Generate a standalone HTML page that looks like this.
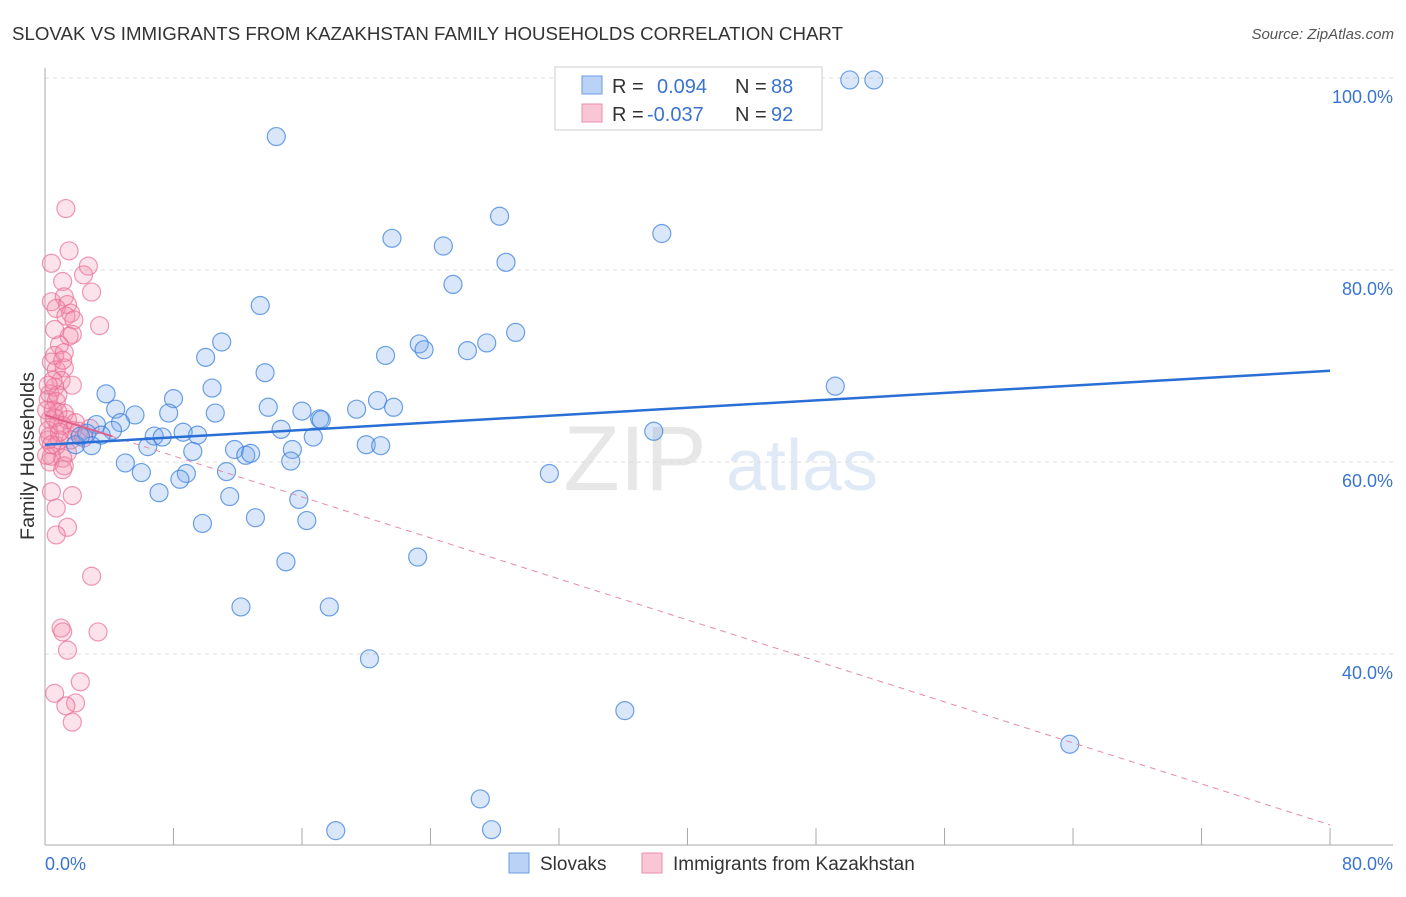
<!DOCTYPE html>
<html><head><meta charset="utf-8"><style>
body{margin:0;background:#fff;font-family:"Liberation Sans",sans-serif}
svg text{font-family:"Liberation Sans",sans-serif}
</style></head><body>
<svg id="chart" width="1406" height="892" xmlns="http://www.w3.org/2000/svg">
<text x="12" y="40" font-size="18" textLength="831" lengthAdjust="spacingAndGlyphs" fill="#333">SLOVAK VS IMMIGRANTS FROM KAZAKHSTAN FAMILY HOUSEHOLDS CORRELATION CHART</text>
<text x="1394" y="39" font-size="15" fill="#555" font-style="italic" text-anchor="end">Source: ZipAtlas.com</text>
<text transform="translate(34,456) rotate(-90)" font-size="19" textLength="168" lengthAdjust="spacingAndGlyphs" fill="#333" text-anchor="middle">Family Households</text>
<g opacity="0.35"><text x="635" y="490" font-size="92" fill="#bbb" font-family="Liberation Serif" text-anchor="middle">ZIP</text><text x="802" y="490" font-size="72" fill="#a8c4e8" text-anchor="middle">atlas</text></g>
<g id="grid"></g><g id="axes"></g><g id="pts"></g><g id="trend"></g>
<g>
<rect x="555" y="67" width="267" height="63" fill="#fff" stroke="#ccc"/>
<rect x="582" y="76" width="20" height="18" fill="#b9d2f5" stroke="#6a9de0"/>
<rect x="582" y="104" width="20" height="18" fill="#f9c6d5" stroke="#ea8fad"/>
<text x="612" y="93" font-size="20" fill="#333">R = </text><text x="657" y="93" font-size="20" fill="#3a74d0">0.094</text>
<text x="735" y="93" font-size="20" fill="#333">N = </text><text x="771" y="93" font-size="20" fill="#3a74d0">88</text>
<text x="612" y="121" font-size="20" fill="#333">R = </text><text x="647" y="121" font-size="20" fill="#3a74d0">-0.037</text>
<text x="735" y="121" font-size="20" fill="#333">N = </text><text x="771" y="121" font-size="20" fill="#3a74d0">92</text>
</g>
<g>
<rect x="509" y="853" width="20" height="20" fill="#b9d2f5" stroke="#6a9de0"/>
<text x="540" y="870" font-size="19" fill="#333">Slovaks</text>
<rect x="642" y="853" width="20" height="20" fill="#f9c6d5" stroke="#ea8fad"/>
<text x="673" y="870" font-size="19" fill="#333">Immigrants from Kazakhstan</text>
</g>
</svg>
<script>
const xTicks=[0,8,16,24,32,40,48,56,64,72,80];
const yGrid=[100,80,60,40];
const yLabels=["100.0%","80.0%","60.0%","40.0%"];
const blueX=[50.1,51.6,14.4,28.3,38.4,21.6,24.8,28.7,25.4,13.4,29.3,11.0,23.3,23.6,26.3,27.5,21.2,10.0,13.7,49.2,3.8,10.4,8.0,20.7,4.4,5.6,7.7,10.6,13.9,16.0,19.4,21.7,17.1,3.2,4.7,4.2,2.6,3.5,6.8,7.3,8.6,9.5,14.7,16.7,20.0,20.9,37.9,1.9,2.9,6.4,9.2,11.8,12.5,12.8,15.4,5.0,15.3,11.3,6.0,8.8,8.4,31.4,7.1,11.5,15.8,9.8,13.1,16.3,23.2,15.0,12.2,17.7,20.2,36.1,63.8,27.1,18.1,27.8,17.2,2.2];
const blueY=[99.8,99.8,93.9,85.6,83.8,83.3,82.5,80.8,78.5,76.3,73.5,72.5,72.3,71.7,71.6,72.4,71.1,70.9,69.3,67.9,67.1,67.7,66.6,66.4,65.5,64.9,65.1,65.1,65.7,65.3,65.5,65.7,64.5,63.9,64.1,63.3,63.0,62.8,62.7,62.6,63.1,62.8,63.4,62.6,61.8,61.7,63.2,61.8,61.7,61.6,61.1,61.3,60.7,60.9,61.3,59.9,60.1,59.0,58.9,58.8,58.2,58.8,56.8,56.4,56.1,53.6,54.2,53.9,50.1,49.6,44.9,44.9,39.5,34.1,30.6,24.9,21.6,21.7,64.4,62.7];
const pinkX=[1.3,1.5,0.4,2.7,2.4,1.1,2.9,0.4,1.2,1.4,0.7,1.6,1.3,1.8,3.4,1.7,1.5,0.9,0.6,1.2,0.4,0.7,1.2,1.0,0.6,0.3,0.7,0.5,0.8,1.2,0.3,0.8,1.1,1.4,1.7,2.1,0.3,0.9,0.7,1.4,0.4,1.1,0.3,1.2,0.4,1.7,0.7,1.4,0.7,2.9,1.0,1.1,1.4,3.3,2.2,0.6,1.9,1.3,1.7,0.2,0.2,0.2,0.1,1.6,1.1,0.8,0.6,1.9,2.4,2.8,0.9,0.4,0.1,0.5,1.7,1.1,0.2,0.6];
const pinkY=[86.4,82.0,80.7,80.4,79.5,78.8,77.7,76.7,77.2,76.4,76.0,75.5,75.2,74.8,74.2,73.3,73.1,72.2,71.1,71.4,70.4,69.6,69.8,68.5,67.8,67.1,66.3,65.4,65.2,65.1,64.4,63.9,63.8,64.4,63.3,63.2,62.7,62.3,61.7,61.0,60.6,60.4,60.0,59.6,56.9,56.5,55.2,53.2,52.4,48.1,42.7,42.3,40.4,42.3,37.1,35.9,34.9,34.6,32.9,66.5,63.3,62.3,60.7,62.3,59.2,67.0,64.6,64.1,62.5,63.5,63.1,61.8,65.4,68.5,68.0,70.6,68.0,73.8];
const blueTrend=[61.8,69.5];
const pinkTrend=[64.9,22.2];
const NS="http://www.w3.org/2000/svg";
const X0=45,X1=1330,Y100=78,PX20=9.6;
const sx=v=>X0+(v/80)*(X1-X0);
const sy=v=>Y100+(100-v)*PX20;
function mk(tag,attrs,parent){const e=document.createElementNS(NS,tag);for(const k in attrs)e.setAttribute(k,attrs[k]);document.getElementById(parent).appendChild(e);return e;}
yGrid.forEach((v,i)=>{
 const l=mk('line',{x1:X0,x2:1393,y1:sy(v),y2:sy(v),stroke:'#ddd','stroke-dasharray':'4,4'},'grid');
 
 
 const t=mk('text',{x:1393,y:sy(v)+25,'font-size':18,fill:'#3a74d0','text-anchor':'end'},'grid');
 t.textContent=yLabels[i];
 
 
});
let a=mk('line',{x1:X0,x2:X0,y1:68,y2:845,stroke:'#aaa'},'axes');


a=mk('line',{x1:X0,x2:1393,y1:845,y2:845,stroke:'#aaa'},'axes');


xTicks.forEach(v=>{const t=mk('line',{x1:sx(v),x2:sx(v),y1:828,y2:845,stroke:'#aaa'},'axes');
 
 });
let xl=mk('text',{x:45,y:870,'font-size':18,fill:'#3a74d0'},'axes');xl.textContent='0.0%';


xl=mk('text',{x:1393,y:870,'font-size':18,fill:'#3a74d0','text-anchor':'end'},'axes');xl.textContent='80.0%';


pinkX.forEach((v,i)=>{const c=mk('circle',{cx:sx(v),cy:sy(pinkY[i]),r:9,fill:'rgba(242,140,170,0.25)',stroke:'rgba(232,110,150,0.7)','stroke-width':1.2},'pts');
 
 });
blueX.forEach((v,i)=>{const c=mk('circle',{cx:sx(v),cy:sy(blueY[i]),r:9,fill:'rgba(120,165,235,0.27)',stroke:'rgba(60,130,220,0.75)','stroke-width':1.2},'pts');
 
 });
const pAt=x=>pinkTrend[0]+(pinkTrend[1]-pinkTrend[0])*x/80;
let tl=mk('line',{x1:sx(0),y1:sy(pinkTrend[0]),x2:sx(4.2),y2:sy(pAt(4.2)),stroke:'#e0608a','stroke-width':2},'trend');


tl=mk('line',{x1:sx(4.2),y1:sy(pAt(4.2)),x2:sx(80),y2:sy(pinkTrend[1]),stroke:'#e68aa8','stroke-width':1,'stroke-dasharray':'6,5'},'trend');


tl=mk('line',{x1:sx(0),y1:sy(blueTrend[0]),x2:sx(80),y2:sy(blueTrend[1]),stroke:'#2a6fd6','stroke-width':2.5},'trend');


</script>
</body></html>
